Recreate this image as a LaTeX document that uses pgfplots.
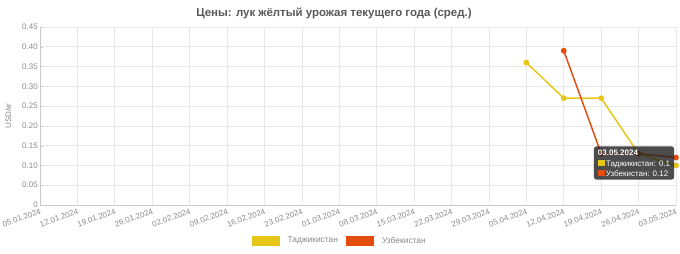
\documentclass[border=0pt]{standalone}
\usepackage{pgfplots}
\pgfplotsset{compat=1.18}
\usepackage{fontspec}
\setmainfont{Liberation Sans}
\definecolor{tj}{HTML}{E6C619}
\definecolor{uz}{HTML}{E44D0E}
\definecolor{gridc}{HTML}{E8E8E8}
\definecolor{txt}{HTML}{8A8A8A}
\begin{document}
\begin{tikzpicture}
\begin{axis}[
  set layers=standard,
  at={(30pt,36pt)}, anchor=south west,
  scale only axis, width=477pt, height=133.5pt,
  xmin=0, xmax=17, ymin=0, ymax=0.45,
  xtick={0,...,17},
  xticklabels={05.01.2024,12.01.2024,19.01.2024,26.01.2024,02.02.2024,09.02.2024,16.02.2024,23.02.2024,01.03.2024,08.03.2024,15.03.2024,22.03.2024,29.03.2024,05.04.2024,12.04.2024,19.04.2024,26.04.2024,03.05.2024},
  ytick={0,0.05,...,0.46},
  yticklabels={0,0.05,0.10,0.15,0.20,0.25,0.30,0.35,0.40,0.45},
  /pgf/number format/assume math mode=true,
  grid=major, major grid style={gridc, line width=0.5pt},
  axis lines*=left, axis line style={gridc!70!gray, line width=0.6pt},
  major tick length=2pt, tick style={gridc!70!gray},
  xtick style={draw=none},
  ticklabel style={font=\fontsize{6}{7}\selectfont, text=txt},
  xticklabel style={rotate=20, anchor=north east, inner sep=1pt, yshift=-1pt},
  yticklabel style={inner sep=1.5pt},
  ylabel={USD/кг}, ylabel style={font=\fontsize{6}{7}\selectfont, text=txt, at={(axis description cs:-0.05,0.5)}, anchor=center},
  legend columns=2,
  legend style={at={(axis description cs:0.4717,-0.202)}, anchor=center, draw=none, font=\fontsize{6.3}{7}\selectfont, text=txt, column sep=4pt},
  legend image code/.code={\fill (0pt,-3.4pt) rectangle (20pt,3.4pt);},
  clip=false,
]
\addplot[tj, line width=1.1pt, mark=*, mark size=1.6pt, mark options={fill=tj, draw=tj}] coordinates {(13,0.36) (14,0.27) (15,0.27) (16,0.13) (17,0.10)};
\addlegendentry{Таджикистан}
\addplot[uz, line width=1.1pt, mark=*, mark size=1.6pt, mark options={fill=uz, draw=uz}] coordinates {(14,0.39) (15,0.13) (16,0.13) (17,0.12)};
\addlegendentry{Узбекистан}
\begin{pgfonlayer}{axis foreground}
\node[anchor=north west, fill=black!88, fill opacity=0.8, text opacity=1, text=white, rounded corners=2pt, inner xsep=3pt, inner ysep=2.5pt, align=left, font=\fontsize{6}{7.4}\selectfont] at (axis cs:14.8,0.149)
 {\textbf{03.05.2024}\\[1pt]{\color{tj}\rule{5pt}{5pt}}\,Таджикистан: 0.1\\{\color{uz}\rule{5pt}{5pt}}\,Узбекистан: 0.12};
\end{pgfonlayer}
\end{axis}
\node[font=\fontsize{8.6}{10}\selectfont\bfseries, text=black!65] at (250.5pt,179.5pt) {Цены: лук жёлтый урожая текущего года (сред.)};
\pgfresetboundingbox
\path (0,0) rectangle (510pt,189.75pt);
\end{tikzpicture}
\end{document}
